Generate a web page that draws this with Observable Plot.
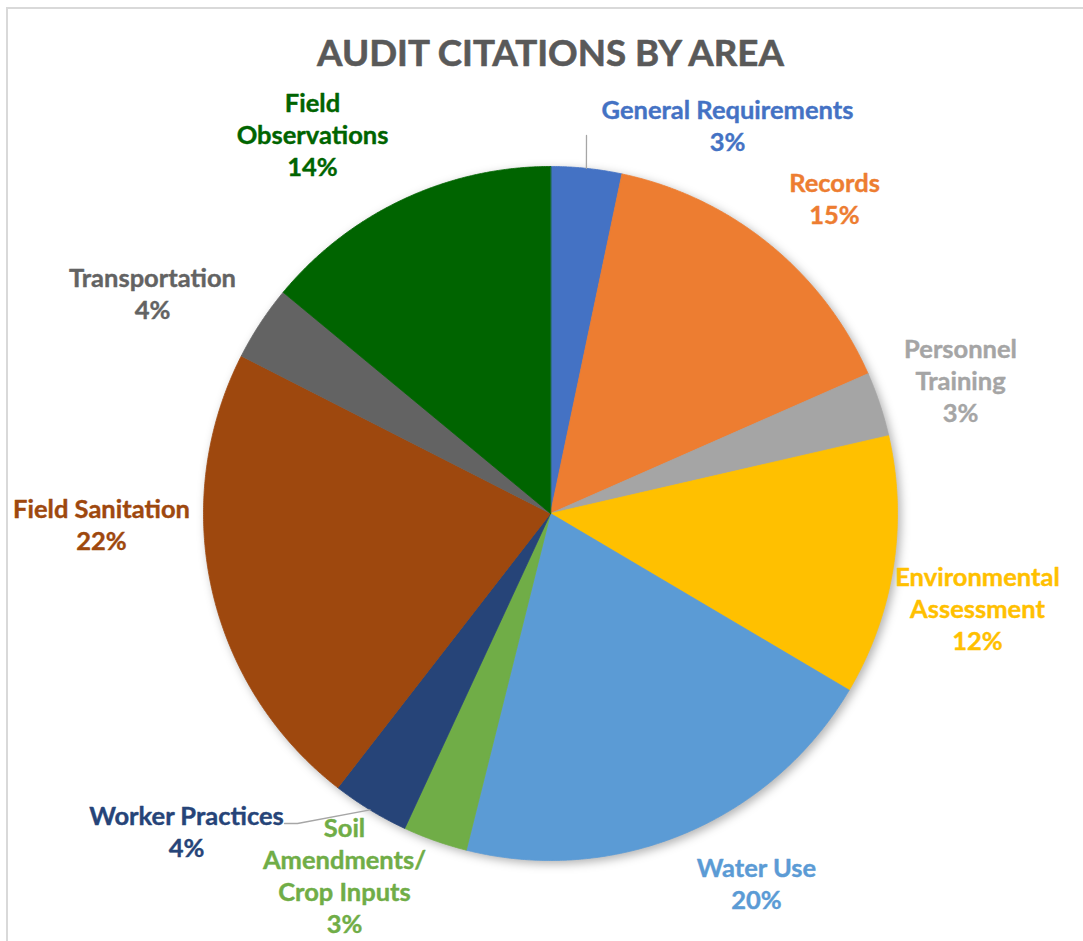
<!DOCTYPE html>
<html><head><meta charset="utf-8">
<script src="https://cdn.jsdelivr.net/npm/d3@7"></script>
<script src="https://cdn.jsdelivr.net/npm/@observablehq/plot@0.6"></script>
<style>
body{margin:0;background:#fff;}
#wrap{position:relative;width:1083px;height:941px;overflow:hidden;background:#fff;}
#frame{position:absolute;left:6px;top:7px;width:1300px;height:1300px;border-left:2px solid #d9d9d9;border-top:2px solid #d9d9d9;}
#chart{position:absolute;left:0;top:0;}
</style></head><body>
<div id="wrap"><div id="frame"></div><div id="chart"></div></div>
<script>
// ---- data (clockwise from 12 o'clock) ----
const categories = ["General Requirements","Records","Personnel Training","Environmental Assessment","Water Use","Soil Amendments/ Crop Inputs","Worker Practices","Field Sanitation","Transportation","Field Observations"];
const values = [3.3, 15.1, 3.0, 12.1, 20.4, 3.0, 3.6, 22.0, 3.5, 14.0];
const labelText = ["General Requirements","Records","Personnel\nTraining","Environmental\nAssessment","Water Use","Soil\nAmendments/\nCrop Inputs","Worker Practices","Field Sanitation","Transportation","Field\nObservations"];
const colors = ["#4472C4","#ED7D31","#A5A5A5","#FFC000","#5B9BD5","#70AD47","#264478","#9E480E","#636363","#006400"];
const titleText = "AUDIT CITATIONS BY AREA";

// ---- layout ----
const W = 1083, H = 941, CX = 550, CY = 513, R = 347;
const labelPos = [[727,124],[834,197],[960,379],[977,607],[756,882],[344,874],[186,830],[101,523],[152,292],[312,133]];
const leaderEnds = {"General Requirements": [[586,135]], "Worker Practices": [[297,823],[284,823]]};

const total = d3.sum(values);
const arcs = d3.pie().sort(null).value(d => d)(values);
const pt = (a, r) => ({x: CX + r * Math.sin(a), y: CY - r * Math.cos(a)});

const slicePts = [];
arcs.forEach((a, i) => {
  const name = categories[i];
  slicePts.push({name, ...pt(0, 0)});
  const n = Math.max(4, Math.ceil((a.endAngle - a.startAngle) / 0.005));
  for (let k = 0; k <= n; k++) {
    const ang = a.startAngle + (a.endAngle - a.startAngle) * k / n;
    slicePts.push({name, ...pt(ang, R)});
  }
});

const labels = categories.map((name, i) => ({
  name,
  x: labelPos[i][0], y: labelPos[i][1],
  text: labelText[i] + "\n" + Math.round(values[i] / total * 100) + "%"
}));

const leaders = [];
Object.entries(leaderEnds).forEach(([name, ends]) => {
  const i = categories.indexOf(name);
  const mid = (arcs[i].startAngle + arcs[i].endAngle) / 2;
  leaders.push({name, ...pt(mid, R)});
  ends.forEach(([x, y]) => leaders.push({name, x, y}));
});

const chart = Plot.plot({
  width: W, height: H, margin: 0,
  style: {background: "transparent", fontFamily: "Lato, sans-serif"},
  x: {domain: [0, W], range: [0, W], axis: null},
  y: {domain: [0, H], range: [0, H], axis: null},
  color: {type: "ordinal", domain: categories, range: colors},
  marks: [
    Plot.line(slicePts, {x: "x", y: "y", z: "name", fill: "name", stroke: "name", strokeWidth: 0.8, curve: "linear-closed"}),
    Plot.line(leaders, {x: "x", y: "y", z: "name", stroke: "#A6A6A6", strokeWidth: 1.3}),
    Plot.text(labels, {x: "x", y: "y", text: "text", fill: "name", fontSize: 25.5, fontWeight: "bold", lineHeight: 1.255, fontFamily: "Lato", stroke: "name", strokeWidth: 0.4}),
    Plot.text([titleText], {x: () => CX, y: () => 54, text: d => d, fill: "#595959", stroke: "#595959", strokeWidth: 0.6, fontSize: 36.7, fontWeight: "bold", fontFamily: "Lato"})
  ]
});
const g = chart.querySelector('g[aria-label="line"]');
if (g) g.style.filter = "drop-shadow(3px 3px 5px rgba(0,0,0,0.3))";
document.getElementById("chart").appendChild(chart);
</script>
</body></html>
